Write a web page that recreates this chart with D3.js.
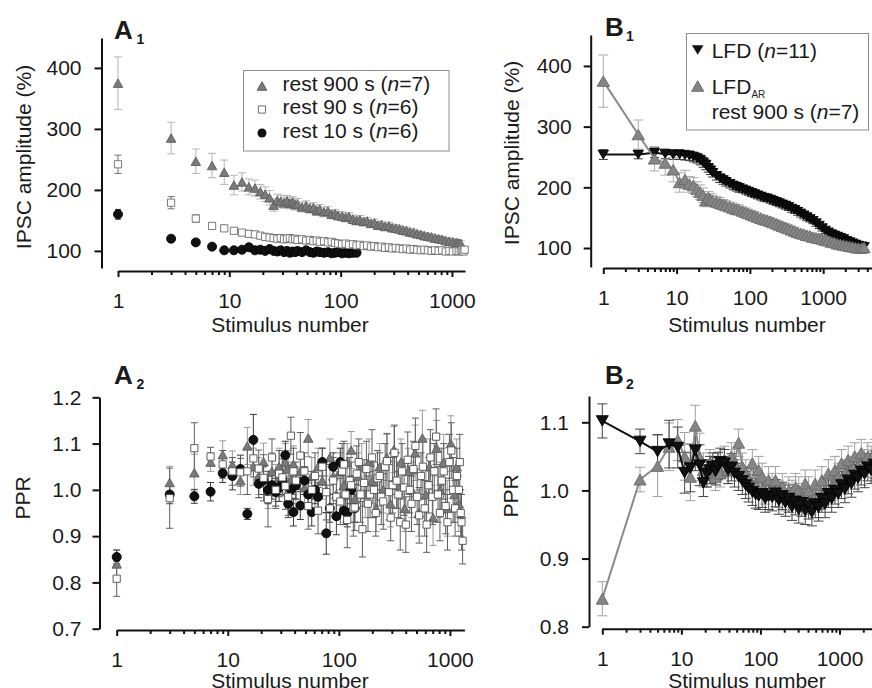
<!DOCTYPE html>
<html>
<head>
<title>IPSC amplitude and PPR during stimulus trains</title>
<script src="https://d3js.org/d3.v7.min.js"></script>
<style>
  body { margin: 0; background: #fff; }
  svg text { font-family: "Liberation Sans", Arial, Helvetica, sans-serif; fill: #1a1a1a; }
</style>
</head>
<body>
<script>

// ---------- data: panel A (stimulus numbers shared by the three rest conditions)
var stim_a = [1,3,5,7,9,11,13,15,17,19,
  21,23,25,27,29,31,33,35,37,39,
  41,45,49,53,57,61,65,71,77,83,
  89,95,103,111,119,129,139,149,161,173,
  187,201,217,233,251,271,291,313,337,363,
  391,421,453,487,525,565,609,655,705,759,
  817,879,947,1019,1097,1151,1201,1241,1271,1301];

// denser stimulus list for the rest 90 s PPR cloud
var stim_a90_ppr = [1,3,5,7,9,11,13,15,17,19,
  21,23,25,27,29,31,33,35,37,39,
  41,45,49,53,57,61,65,71,77,83,
  89,95,103,107,111,115,119,125,129,135,
  139,145,151,157,163,169,177,183,191,199,
  207,215,223,233,241,251,261,271,283,293,
  305,317,331,343,357,371,387,401,417,435,
  451,469,489,507,529,549,571,593,617,643,
  667,695,723,751,781,813,845,879,915,951,
  989,1029,1069,1113,1157,1203,1227,1251,1271,1301];

// A1 - IPSC amplitude (%)
var rest900_amp = [375,285,247,240,229,208,213,205,203,197,
  193,187,175,183,181,179,182,178,180,176,
  177,172,174,170,171,166,168,164,165,160,
  161,158,157,155,156,152,150,151,148,149,
  145,146,142,143,140,141,138,137,136,134,
  133,131,130,128,127,125,124,123,121,120,
  119,117,116,115,114,113,112];
var rest900_amp_err = [43,26,20,20,20,16,15,13,13,12,
  12,12,10,10,10,9,9,9,9,9,
  9,8,8,8,8,8,8,8,8,7,
  7,7,7,7,7,7,7,7,6,6,
  6,6,6,6,6,6,6,6,6,6,
  6,6,6,5,5,5,5,5,5,5,
  5,5,5,5,5,5,5];
var rest90_amp = [242,179,153,141,137,133,130,128,127,125,
  123,122,121,120,121,119,120,121,119,120,
  118,119,117,118,116,117,115,116,114,115,
  113,112,111,112,110,111,109,110,108,109,
  107,108,106,107,105,106,104,105,104,103,
  104,102,103,102,101,102,101,100,101,100,
  101,99,100,99,100,99,100,101,99,102];
var rest90_amp_err = [15,10,6,5,5,5,5,5,5,5,
  5,5,5,5,5,5,5,5,5,5,
  5,5,5,5,5,5,5,5,5,5,
  5,5,4,4,4,4,4,4,4,4,
  4,4,4,4,4,4,4,4,4,4,
  4,4,4,4,4,4,4,4,4,4,
  4,4,4,4,4,4,4,4,4,4];
var rest10_amp = [160,120,114,107,101,101,102,106,101,102,
  100,103,100,99,101,98,100,97,99,98,
  100,98,101,98,97,99,98,97,98,96,
  97,98,96,97,96,97,97];
var rest10_amp_err = [8,4,4,3,3,3,3,3,3,3,
  3,3,3,3,3,3,3,3,3,3,
  3,3,3,3,3,3,3,3,3,3,
  3,3,3,3,3,3,3];

// A2 - paired pulse ratio
var rest900_ppr = [0.840,1.016,1.037,1.060,1.076,1.054,1.020,1.095,1.050,1.030,
  1.061,1.000,1.040,1.015,1.050,1.035,1.060,1.045,1.020,1.055,
  1.010,1.040,1.005,1.112,1.030,0.990,1.050,1.020,1.000,1.070,
  1.030,0.990,1.040,1.010,1.060,1.086,0.980,1.030,1.050,0.990,
  1.060,1.020,0.960,1.050,1.000,1.070,0.970,1.087,1.010,1.060,
  0.960,1.040,1.000,1.080,0.950,1.112,0.990,1.050,0.940,1.090,
  1.000,1.060,0.960,1.100,0.990,1.050,0.970];
var rest900_ppr_err = [0.030,0.035,0.040,0.020,0.030,0.030,0.030,0.040,0.040,0.040,
  0.040,0.040,0.040,0.040,0.040,0.040,0.040,0.040,0.040,0.040,
  0.040,0.040,0.040,0.040,0.040,0.040,0.040,0.040,0.050,0.040,
  0.040,0.050,0.040,0.050,0.040,0.040,0.050,0.050,0.050,0.050,
  0.050,0.050,0.050,0.050,0.050,0.050,0.050,0.050,0.050,0.050,
  0.050,0.050,0.060,0.060,0.050,0.060,0.060,0.060,0.060,0.060,
  0.060,0.060,0.060,0.060,0.060,0.060,0.060];
var rest90_ppr = [0.808,0.982,1.090,1.072,1.055,1.040,1.038,1.040,1.068,1.046,
  1.026,0.980,1.070,1.000,1.035,1.027,1.008,0.985,1.117,1.040,
  1.020,1.074,1.040,0.965,1.000,1.030,0.955,1.050,0.995,0.960,
  1.020,0.985,0.975,1.040,1.055,0.990,0.935,1.020,1.010,0.960,
  0.962,1.035,1.060,0.990,0.915,1.015,1.045,0.970,0.990,1.070,
  1.000,0.950,1.025,1.030,0.985,0.975,1.050,1.062,0.995,0.940,
  1.010,1.080,1.020,0.990,0.930,1.040,1.005,0.925,1.065,1.000,
  0.970,1.045,1.095,0.985,0.945,1.030,1.050,0.960,0.925,1.010,
  1.070,0.985,1.040,1.115,0.990,0.950,1.020,1.040,0.965,0.930,
  1.060,1.085,1.000,0.960,1.030,1.000,1.060,0.950,0.930,0.890];
var rest90_ppr_err = [0.038,0.065,0.055,0.020,0.030,0.030,0.030,0.050,0.040,0.040,
  0.050,0.060,0.040,0.040,0.050,0.040,0.050,0.040,0.040,0.050,
  0.040,0.050,0.040,0.050,0.040,0.050,0.050,0.040,0.060,0.050,
  0.050,0.040,0.050,0.060,0.050,0.060,0.060,0.050,0.050,0.060,
  0.050,0.060,0.050,0.060,0.060,0.050,0.060,0.060,0.050,0.060,
  0.060,0.050,0.060,0.050,0.060,0.060,0.050,0.060,0.060,0.050,
  0.060,0.060,0.060,0.050,0.060,0.060,0.060,0.060,0.060,0.050,
  0.060,0.060,0.060,0.060,0.060,0.050,0.060,0.060,0.060,0.060,
  0.060,0.060,0.060,0.060,0.060,0.060,0.070,0.060,0.060,0.060,
  0.060,0.060,0.070,0.060,0.060,0.060,0.060,0.050,0.060,0.050];
var rest10_ppr = [0.855,0.990,0.986,0.996,1.036,1.030,1.045,0.948,1.108,1.013,
  1.020,1.000,1.010,0.995,1.005,1.020,1.075,0.970,1.000,0.952,
  1.010,0.966,1.020,0.990,0.952,1.000,0.985,1.060,0.906,0.960,
  1.050,0.943,1.060,0.955,0.950,1.000,0.960];
var rest10_ppr_err = [0.015,0.020,0.015,0.020,0.020,0.030,0.030,0.012,0.055,0.030,
  0.030,0.030,0.030,0.030,0.030,0.030,0.030,0.030,0.030,0.030,
  0.030,0.030,0.030,0.030,0.030,0.030,0.030,0.030,0.045,0.030,
  0.030,0.040,0.030,0.030,0.030,0.030,0.030];

// ---------- data: panel B
var stim_b = [1,3,5,7,9,11,13,15,17,19,
  21,23,25,27,29,31,35,39,43,47,
  53,59,65,71,79,87,95,105,115,127,
  141,155,171,189,207,229,251,277,305,335,
  369,407,447,493,543,597,657,723,797,877,
  965,1061,1169,1287,1415,1557,1713,1885,2075,2283,
  2511,2763,3041,3345,3601];

// B1 - IPSC amplitude (%)
var lfd_amp = [254,254,257,255,254,254,253,252,250,248,
  245,241,237,232,228,224,219,215,212,209,
  206,203,201,199,197,195,193,191,189,187,
  185,183,182,180,178,176,174,172,170,168,
  165,163,160,157,154,151,148,145,141,137,
  133,129,126,123,121,119,117,115,112,110,
  108,106,104,103,102];
var lfd_amp_err = [8,7,8,8,8,8,8,8,8,8,
  8,8,8,7,7,7,7,7,7,7,
  7,7,7,7,6,6,6,6,6,6,
  6,6,6,6,6,6,6,6,6,6,
  6,6,6,6,6,6,5,5,5,5,
  5,5,5,5,5,5,5,5,5,5,
  5,5,5,5,5];
var lfdar_amp = [375,287,247,240,229,208,213,205,203,197,
  192,187,178,183,180,178,176,174,172,170,
  168,166,164,163,161,159,157,155,153,151,
  149,147,146,144,142,140,138,136,134,132,
  130,128,126,124,123,121,120,118,117,116,
  115,113,112,110,109,107,106,105,104,103,
  102,101,100,100,101];
var lfdar_amp_err = [43,24,20,20,20,16,15,13,13,12,
  12,12,10,10,10,9,9,9,8,8,
  8,8,8,8,7,7,7,7,7,7,
  6,6,6,6,6,6,6,6,6,6,
  6,6,5,5,5,5,5,5,5,5,
  5,5,5,5,5,5,5,5,5,5,
  5,5,5,5,5];

// B2 - paired pulse ratio
var lfd_ppr = [1.102,1.072,1.057,1.068,1.063,1.026,1.033,1.059,1.037,1.011,
  1.025,1.030,1.035,1.028,1.036,1.042,1.040,1.030,1.034,1.025,
  1.020,1.014,1.008,1.003,0.998,0.994,0.992,0.995,0.988,0.992,
  0.990,0.996,0.985,0.992,0.982,0.988,0.976,0.984,0.972,0.982,
  0.970,0.978,0.968,0.980,0.975,0.988,0.980,0.995,0.988,1.000,
  0.995,1.008,1.002,1.015,1.010,1.022,1.018,1.028,1.024,1.034,
  1.030,1.038,1.034,1.040,1.038];
var lfd_ppr_err = [0.025,0.018,0.025,0.035,0.030,0.030,0.035,0.030,0.030,0.020,
  0.020,0.020,0.020,0.020,0.020,0.020,0.020,0.020,0.020,0.020,
  0.020,0.020,0.020,0.020,0.020,0.020,0.020,0.020,0.020,0.020,
  0.020,0.020,0.020,0.020,0.020,0.020,0.020,0.020,0.020,0.020,
  0.020,0.020,0.020,0.020,0.020,0.020,0.020,0.020,0.020,0.020,
  0.020,0.020,0.020,0.020,0.020,0.020,0.020,0.020,0.020,0.020,
  0.020,0.020,0.020,0.020,0.020];
var lfdar_ppr = [0.841,1.016,1.036,1.064,1.074,1.050,1.020,1.095,1.049,1.030,
  1.025,1.040,1.030,1.020,1.035,1.025,1.045,1.030,1.050,1.040,
  1.070,1.035,1.025,1.015,1.040,1.010,1.030,1.020,1.000,1.015,
  1.005,1.015,0.995,1.005,0.990,1.000,0.995,1.005,1.000,0.990,
  1.010,1.000,0.985,1.010,0.980,1.015,1.000,1.025,1.005,1.030,
  1.020,1.040,1.025,1.045,1.030,1.050,1.035,1.055,1.040,1.050,
  1.045,1.055,1.050,1.055,1.050];
var lfdar_ppr_err = [0.025,0.018,0.045,0.035,0.030,0.035,0.035,0.030,0.035,0.025,
  0.020,0.020,0.020,0.020,0.020,0.020,0.020,0.020,0.020,0.020,
  0.020,0.020,0.020,0.020,0.020,0.020,0.020,0.020,0.020,0.020,
  0.020,0.020,0.020,0.020,0.020,0.020,0.020,0.020,0.020,0.020,
  0.020,0.020,0.020,0.020,0.020,0.020,0.020,0.020,0.020,0.020,
  0.020,0.020,0.020,0.020,0.020,0.020,0.020,0.020,0.020,0.020,
  0.020,0.020,0.020,0.020,0.020];

// ---------- helpers

var svg = d3.select('body').append('svg')
  .attr('width', 872)
  .attr('height', 688);

// pair up stimulus numbers with values and errors
function series(stim, vals, errs) {
  return vals.map(function (v, i) {
    return { s: stim[i], v: v, e: errs[i] };
  });
}

function is_major(d) {
  var l = Math.log10(d);
  return Math.abs(l - Math.round(l)) < 1e-9;
}

function shape_path(shape, w, h) {
  if (shape == 'up') {
    return 'M0,' + (-h / 2) + 'L' + (w / 2) + ',' + (h / 2) + 'L' + (-w / 2) + ',' + (h / 2) + 'Z';
  }
  if (shape == 'down') {
    return 'M0,' + (h / 2) + 'L' + (w / 2) + ',' + (-h / 2) + 'L' + (-w / 2) + ',' + (-h / 2) + 'Z';
  }
  if (shape == 'square') {
    return 'M' + (-w / 2) + ',' + (-h / 2) + 'h' + w + 'v' + h + 'h' + (-w) + 'Z';
  }
  // circle
  var r = w / 2;
  return 'M' + (-r) + ',0a' + r + ',' + r + ' 0 1,0 ' + (2 * r) + ',0a' + r + ',' + r + ' 0 1,0 ' + (-2 * r) + ',0Z';
}

function draw_x_axis(x, y0) {
  var g = svg.append('g')
    .attr('transform', 'translate(0,' + y0 + ')')
    .call(d3.axisBottom(x)
      .tickValues(x.ticks())
      .tickSizeInner(6)
      .tickSizeOuter(0)
      .tickPadding(16)
      .tickFormat(function (d) { return is_major(d) ? d : ''; }));
  g.selectAll('.tick line')
    .attr('y2', function (d) { return is_major(d) ? 6 : 4; });
  style_axis(g);
}

function draw_y_axis(y, x0, ticks, fmt, pad) {
  var g = svg.append('g')
    .attr('transform', 'translate(' + x0 + ',0)')
    .call(d3.axisLeft(y)
      .tickValues(ticks)
      .tickSizeInner(7)
      .tickSizeOuter(0)
      .tickPadding(pad)
      .tickFormat(fmt));
  style_axis(g);
}

function style_axis(g) {
  g.attr('font-size', null).attr('font-family', null);
  g.select('.domain').attr('stroke', '#111').attr('stroke-width', 2);
  g.selectAll('.tick line').attr('stroke', '#111').attr('stroke-width', 2);
  g.selectAll('.tick text').style('font-size', '21px').attr('fill', '#1a1a1a');
}

function draw_errors(data, x, y, color, cap) {
  var g = svg.append('g').attr('stroke', color).attr('stroke-width', 1).attr('fill', 'none');
  g.selectAll('path')
    .data(data)
    .enter()
    .append('path')
    .attr('d', function (d) {
      var px = x(d.s), lo = y(d.v - d.e), hi = y(d.v + d.e);
      return 'M' + px + ',' + lo + 'V' + hi +
        'M' + (px - cap / 2) + ',' + hi + 'h' + cap +
        'M' + (px - cap / 2) + ',' + lo + 'h' + cap;
    });
}

function draw_markers(data, x, y, shape, w, h, fill, stroke) {
  svg.append('g')
    .selectAll('path')
    .data(data)
    .enter()
    .append('path')
    .attr('transform', function (d) { return 'translate(' + x(d.s) + ',' + y(d.v) + ')'; })
    .attr('d', shape_path(shape, w, h))
    .attr('fill', fill)
    .attr('stroke', stroke)
    .attr('stroke-width', 0.9);
}

function draw_line(data, x, y, color, width) {
  svg.append('path')
    .datum(data)
    .attr('fill', 'none')
    .attr('stroke', color)
    .attr('stroke-width', width)
    .attr('d', d3.line().x(function (d) { return x(d.s); }).y(function (d) { return y(d.v); }));
}

function panel_label(letter, sub, x0, y0, sub_dx) {
  svg.append('text').attr('x', x0).attr('y', y0)
    .style('font-size', '26px').style('font-weight', 'bold').text(letter);
  svg.append('text').attr('x', x0 + sub_dx).attr('y', y0 + 5)
    .style('font-size', '14px').style('font-weight', 'bold').text(sub);
}

function y_title(txt, x0, y0) {
  svg.append('text')
    .attr('transform', 'translate(' + x0 + ',' + y0 + ') rotate(-90)')
    .attr('text-anchor', 'middle')
    .style('font-size', '21px')
    .text(txt);
}

function x_title(txt, x0, y0) {
  svg.append('text')
    .attr('x', x0).attr('y', y0)
    .attr('text-anchor', 'middle')
    .style('font-size', '21px')
    .text(txt);
}

// legend text with an italic n
function legend_text(x0, y0, before, n) {
  var t = svg.append('text').attr('x', x0).attr('y', y0).style('font-size', '21px');
  t.append('tspan').text(before + '(');
  t.append('tspan').style('font-style', 'italic').text('n');
  t.append('tspan').text('=' + n + ')');
}

var fmt_int = d3.format('d');
var fmt_1 = d3.format('.1f');

// ---------- panel A1
var xA1 = d3.scaleLog().domain([1, 1310]).range([118, 465]);
var yA1 = d3.scaleLinear().domain([72, 449]).range([268, 38]);
draw_y_axis(yA1, 101.5, [100, 200, 300, 400], fmt_int, 13);
draw_x_axis(xA1, 271);

var a1_900 = series(stim_a, rest900_amp, rest900_amp_err);
var a1_90 = series(stim_a, rest90_amp, rest90_amp_err);
var a1_10 = series(stim_a, rest10_amp, rest10_amp_err);

draw_errors(a1_900, xA1, yA1, '#b4b4b4', 8);
draw_errors(a1_90, xA1, yA1, '#707070', 7);
draw_errors(a1_10, xA1, yA1, '#333', 6);
draw_markers(a1_900, xA1, yA1, 'up', 9.5, 8.5, '#7a7a7a', '#5c5c5c');
draw_markers(a1_10, xA1, yA1, 'circle', 9, 9, '#111', '#000');
draw_markers(a1_90, xA1, yA1, 'square', 7.2, 7.2, '#fff', '#6e6e6e');

// legend A1
svg.append('rect').attr('x', 243.5).attr('y', 70.5).attr('width', 205.5).attr('height', 80.5)
  .attr('fill', '#fff').attr('stroke', '#8c8c8c').attr('stroke-width', 1);
svg.append('path').attr('transform', 'translate(262,86)').attr('d', shape_path('up', 9.5, 8.5))
  .attr('fill', '#7a7a7a').attr('stroke', '#5c5c5c');
svg.append('path').attr('transform', 'translate(262,109.5)').attr('d', shape_path('square', 7.2, 7.2))
  .attr('fill', '#fff').attr('stroke', '#6e6e6e');
svg.append('path').attr('transform', 'translate(262,133)').attr('d', shape_path('circle', 9, 9))
  .attr('fill', '#111');
legend_text(282.5, 91, 'rest 900 s ', 7);
legend_text(282.5, 114, 'rest 90 s ', 6);
legend_text(282.5, 137.5, 'rest 10 s ', 6);

panel_label('A', '1', 114, 38.5, 22.5);
y_title('IPSC amplitude (%)', 31, 157);
x_title('Stimulus number', 290, 332);

// ---------- panel A2
var xA2 = d3.scaleLog().domain([1, 1350]).range([116.7, 464.4]);
var yA2 = d3.scaleLinear().domain([0.7, 1.2]).range([628.7, 397.3]);
draw_y_axis(yA2, 99.5, [0.7, 0.8, 0.9, 1.0, 1.1, 1.2], fmt_1, 11);
draw_x_axis(xA2, 630);

var a2_900 = series(stim_a, rest900_ppr, rest900_ppr_err);
var a2_90 = series(stim_a90_ppr, rest90_ppr, rest90_ppr_err);
var a2_10 = series(stim_a, rest10_ppr, rest10_ppr_err);

draw_errors(a2_900, xA2, yA2, '#9a9a9a', 7);
draw_errors(a2_10, xA2, yA2, '#3a3a3a', 7);
draw_errors(a2_90, xA2, yA2, '#5e5e5e', 7);
draw_markers(a2_900, xA2, yA2, 'up', 9.5, 8.5, '#7a7a7a', '#5c5c5c');
draw_markers(a2_10, xA2, yA2, 'circle', 9, 9, '#111', '#000');
draw_markers(a2_90, xA2, yA2, 'square', 7.2, 7.2, '#fff', '#4e4e4e');

panel_label('A', '2', 114, 383.5, 22.5);
y_title('PPR', 30, 498);
x_title('Stimulus number', 290, 688);

// ---------- panel B1
var xB1 = d3.scaleLog().domain([1, 5000]).range([603.3, 874.4]);
var yB1 = d3.scaleLinear().domain([68.7, 451]).range([267, 35]);
draw_y_axis(yB1, 590.7, [100, 200, 300, 400], fmt_int, 12);
draw_x_axis(xB1, 268);

var b1_lfd = series(stim_b, lfd_amp, lfd_amp_err);
var b1_ar = series(stim_b, lfdar_amp, lfdar_amp_err);

draw_errors(b1_lfd, xB1, yB1, '#333', 9);
draw_errors(b1_ar, xB1, yB1, '#acacac', 10);
draw_line(b1_lfd, xB1, yB1, '#111', 2);
draw_markers(b1_lfd, xB1, yB1, 'down', 10.5, 8.5, '#111', '#000');
draw_line(b1_ar, xB1, yB1, '#8a8a8a', 2);
draw_markers(b1_ar, xB1, yB1, 'up', 12.5, 10.5, '#858585', '#6a6a6a');

// legend B1
svg.append('rect').attr('x', 686.5).attr('y', 33.5).attr('width', 182).attr('height', 96.5)
  .attr('fill', '#fff').attr('stroke', '#8c8c8c').attr('stroke-width', 1);
svg.append('path').attr('transform', 'translate(697.7,50)').attr('d', shape_path('down', 11.5, 9.5))
  .attr('fill', '#111');
svg.append('path').attr('transform', 'translate(697.7,86)').attr('d', shape_path('up', 12, 10.5))
  .attr('fill', '#858585').attr('stroke', '#6a6a6a');
legend_text(711.7, 57.5, 'LFD ', 11);
var lar = svg.append('text').attr('x', 711.7).attr('y', 93.5).style('font-size', '21px');
lar.append('tspan').text('LFD');
lar.append('tspan').attr('dy', 4).style('font-size', '10px').text('AR');
legend_text(711.7, 118.5, 'rest 900 s ', 7);

panel_label('B', '1', 605, 36, 21);
y_title('IPSC amplitude (%)', 519, 153);
x_title('Stimulus number', 747, 332);

// ---------- panel B2
var xB2 = d3.scaleLog().domain([1, 2700]).range([602.3, 873.6]);
var yB2 = d3.scaleLinear().domain([0.8, 1.1386]).range([626.7, 396]);
draw_y_axis(yB2, 589, [0.8, 0.9, 1.0, 1.1], fmt_1, 13);
draw_x_axis(xB2, 628.7);

var b2_lfd = series(stim_b, lfd_ppr, lfd_ppr_err);
var b2_ar = series(stim_b, lfdar_ppr, lfdar_ppr_err);

draw_errors(b2_ar, xB2, yB2, '#a0a0a0', 10);
draw_errors(b2_lfd, xB2, yB2, '#444', 10);
draw_line(b2_ar, xB2, yB2, '#8a8a8a', 2);
draw_markers(b2_ar, xB2, yB2, 'up', 12, 11, '#858585', '#6a6a6a');
draw_line(b2_lfd, xB2, yB2, '#111', 2);
draw_markers(b2_lfd, xB2, yB2, 'down', 12, 10.5, '#111', '#000');

panel_label('B', '2', 605, 383.5, 21);
y_title('PPR', 517.5, 496);
x_title('Stimulus number', 747, 688);

</script>
</body>
</html>
